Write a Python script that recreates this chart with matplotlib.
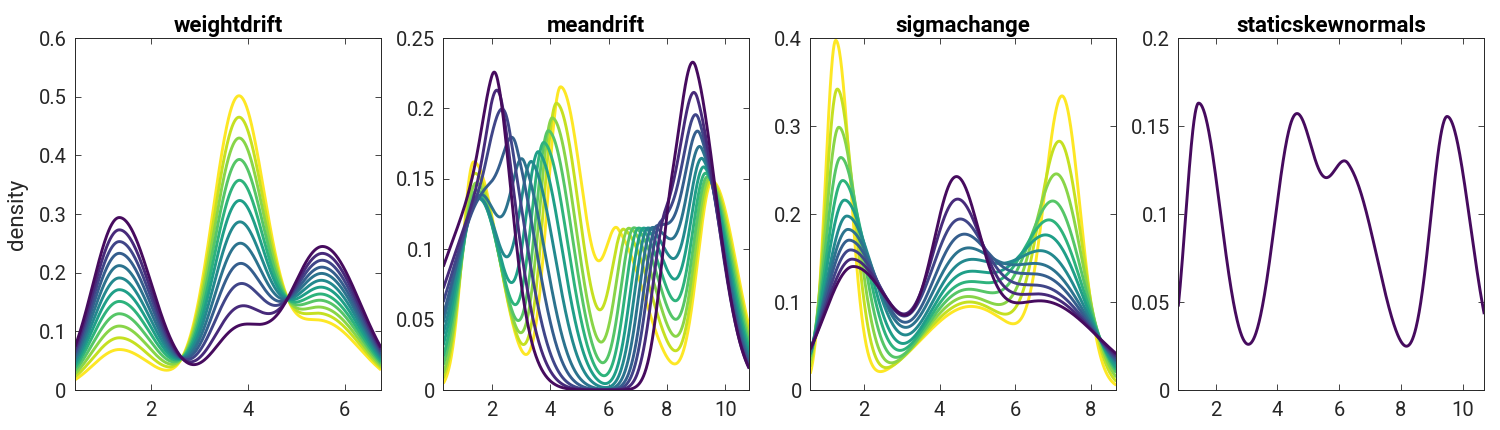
import numpy as np
import matplotlib
matplotlib.use("Agg")
import matplotlib.pyplot as plt
from matplotlib.ticker import MultipleLocator, FuncFormatter

plt.rcParams["font.family"] = ["Roboto", "DejaVu Sans"]

# every curve is a sum of (split) normal bumps: centre, peak height, left/right width
# curve order in all lists: first = dark purple, last = yellow

# weightdrift: fixed bumps, drifting weights
WD_CENTERS = [1.35, 3.81, 5.55]
WD_LEFT = [0.55, 0.53, 0.68]
WD_RIGHT = [0.67, 0.55, 0.77]
WD_H1 = [0.294, 0.273, 0.253, 0.233, 0.212, 0.191, 0.171, 0.151, 0.130, 0.109, 0.089, 0.069]
WD_H2 = [0.100, 0.133, 0.172, 0.207, 0.242, 0.279, 0.316, 0.351, 0.387, 0.424, 0.460, 0.497]
WD_H3 = [0.244, 0.232, 0.220, 0.208, 0.197, 0.185, 0.173, 0.161, 0.150, 0.138, 0.127, 0.115]

# meandrift: four bumps whose centres move
MD_A_C = [2.00, 1.90, 1.80, 1.70, 1.62, 1.58, 1.55, 1.52, 1.49, 1.46, 1.42, 1.38]
MD_A_H = [0.150, 0.138, 0.136, 0.135, 0.138, 0.136, 0.136, 0.138, 0.142, 0.147, 0.154, 0.162]
MD_A_SL = [1.60, 1.37, 1.17, 1.00, 0.88, 0.79, 0.71, 0.63, 0.565, 0.50, 0.447, 0.39]
MD_A_SR = [0.55, 0.60, 0.66, 0.72, 0.78, 0.82, 0.85, 0.85, 0.85, 0.85, 0.85, 0.85]
MD_B_C = [2.20, 2.40, 2.60, 2.85, 3.12, 3.40, 3.62, 3.80, 3.95, 4.08, 4.22, 4.36]
MD_B_H = [0.080, 0.100, 0.120, 0.135, 0.140, 0.150, 0.162, 0.172, 0.182, 0.192, 0.203, 0.215]
MD_C_C = [8.20, 7.95, 7.78, 7.65, 7.50, 7.35, 7.20, 7.03, 6.87, 6.70, 6.53, 6.33]
MD_C_H = [0.115, 0.115, 0.115, 0.115, 0.115, 0.115, 0.115, 0.115, 0.115, 0.114, 0.111, 0.104]
MD_D_C = [9.00, 9.05, 9.10, 9.15, 9.20, 9.25, 9.30, 9.35, 9.40, 9.45, 9.50, 9.55]
MD_B_SHAPE = (0.46, 0.80)
MD_C_SHAPE = (0.45, 0.95)
MD_D_SHAPE = (0.148, 0.50, 0.82)

# sigmachange: fixed areas, widths change with the peak heights
SC_C1 = [1.71, 1.68, 1.64, 1.60, 1.57, 1.54, 1.48, 1.43, 1.38, 1.33, 1.29, 1.25]
SC_H1 = [0.140, 0.1485, 0.159, 0.170, 0.182, 0.197, 0.215, 0.237, 0.263, 0.297, 0.340, 0.395]
SC_C2 = [4.41, 4.41, 4.43, 4.48, 4.52, 4.57, 4.61, 4.65, 4.70, 4.74, 4.79, 4.83]
SC_H2 = [0.206, 0.185, 0.167, 0.154, 0.142, 0.134, 0.127, 0.119, 0.113, 0.106, 0.100, 0.095]
SC_C3 = [6.70, 6.70, 6.72, 6.76, 6.81, 6.87, 6.94, 7.00, 7.07, 7.14, 7.20, 7.26]
SC_H3 = [0.101, 0.108, 0.116, 0.126, 0.135, 0.148, 0.165, 0.180, 0.200, 0.229, 0.264, 0.314]
SC_AREA = [0.322, 0.320, 0.374]
SC_SKEW = [1.4, 1.05, 1.0]

# staticskewnormals: one curve
SSN_C = [1.45, 4.58, 6.30, 9.50]
SSN_H = [0.163, 0.153, 0.121, 0.155]
SSN_SL = [0.42, 0.68, 0.65, 0.54]
SSN_SR = [0.72, 0.70, 0.95, 0.75]

TITLES = ["weightdrift", "meandrift", "sigmachange", "staticskewnormals"]
XLIMS = [(0.436, 6.75), (0.34, 10.82), (0.577, 8.68), (0.79, 10.70)]
YLIMS = [(0, 0.6), (0, 0.25), (0, 0.4), (0, 0.2)]
YSTEPS = [0.1, 0.05, 0.1, 0.05]
XTICKS = [[2, 4, 6], [2, 4, 6, 8, 10], [2, 4, 6, 8], [2, 4, 6, 8, 10]]


def bump(x, center, height, left, right):
    width = np.where(x < center, left, right)
    return height * np.exp(-0.5 * ((x - center) / width) ** 2)


def widths_for_area(height, area, skew):
    mean_width = area / (height * np.sqrt(2 * np.pi))
    left = 2 * mean_width / (1 + skew)
    return left, skew * left


def weightdrift_curves(x):
    curves = []
    for heights in zip(WD_H1, WD_H2, WD_H3):
        y = sum(bump(x, c, h, l, r) for c, h, l, r in zip(WD_CENTERS, heights, WD_LEFT, WD_RIGHT))
        curves.append(y)
    return curves


def meandrift_curves(x):
    curves = []
    for i in range(len(MD_A_C)):
        y = bump(x, MD_A_C[i], MD_A_H[i], MD_A_SL[i], MD_A_SR[i])
        y = y + bump(x, MD_B_C[i], MD_B_H[i], *MD_B_SHAPE)
        y = y + bump(x, MD_C_C[i], MD_C_H[i], *MD_C_SHAPE)
        y = y + bump(x, MD_D_C[i], *MD_D_SHAPE)
        curves.append(y)
    return curves


def sigmachange_curves(x):
    curves = []
    for i in range(len(SC_C1)):
        y = np.zeros_like(x)
        for k, (centers, heights) in enumerate([(SC_C1, SC_H1), (SC_C2, SC_H2), (SC_C3, SC_H3)]):
            left, right = widths_for_area(heights[i], SC_AREA[k], SC_SKEW[k])
            y = y + bump(x, centers[i], heights[i], left, right)
        curves.append(y)
    return curves


def static_curves(x):
    y = sum(bump(x, c, h, l, r) for c, h, l, r in zip(SSN_C, SSN_H, SSN_SL, SSN_SR))
    return [y]


def style_axes(ax, idx):
    ax.set_xlim(*XLIMS[idx])
    ax.set_ylim(*YLIMS[idx])
    ax.set_xticks(XTICKS[idx])
    ax.yaxis.set_major_locator(MultipleLocator(YSTEPS[idx]))
    ax.yaxis.set_major_formatter(FuncFormatter(lambda v, _: f"{v:g}"))
    ax.tick_params(direction="in", top=True, right=True, length=4, width=0.6,
                   colors="#262626", labelsize=14.5)
    ax.tick_params(axis="x", pad=8)
    ax.tick_params(axis="y", pad=6)
    for spine in ax.spines.values():
        spine.set_color("#262626")
        spine.set_linewidth(0.7)
    ax.set_title(TITLES[idx], fontsize=16, fontweight="bold", color="black", pad=4)


fig = plt.figure(figsize=(15, 4.3), dpi=100)
lefts = [0.050, 0.2955, 0.5402, 0.7855]
builders = [weightdrift_curves, meandrift_curves, sigmachange_curves, static_curves]
colors = plt.cm.viridis(np.linspace(0.03, 1, 12))

for idx, (left, build) in enumerate(zip(lefts, builders)):
    ax = fig.add_axes([left, 0.093, 0.204, 0.8186])
    x = np.linspace(XLIMS[idx][0], XLIMS[idx][1], 800)
    curves = build(x)
    # yellow first so the purple curve ends up on top
    for i in reversed(range(len(curves))):
        ax.plot(x, curves[i], color=colors[i], lw=2.1, solid_capstyle="butt")
    style_axes(ax, idx)
    if idx == 0:
        ax.set_ylabel("density", fontsize=16, color="#262626")
        ax.yaxis.set_label_coords(-0.155, 0.5)

fig.savefig("out.png", dpi=100)
